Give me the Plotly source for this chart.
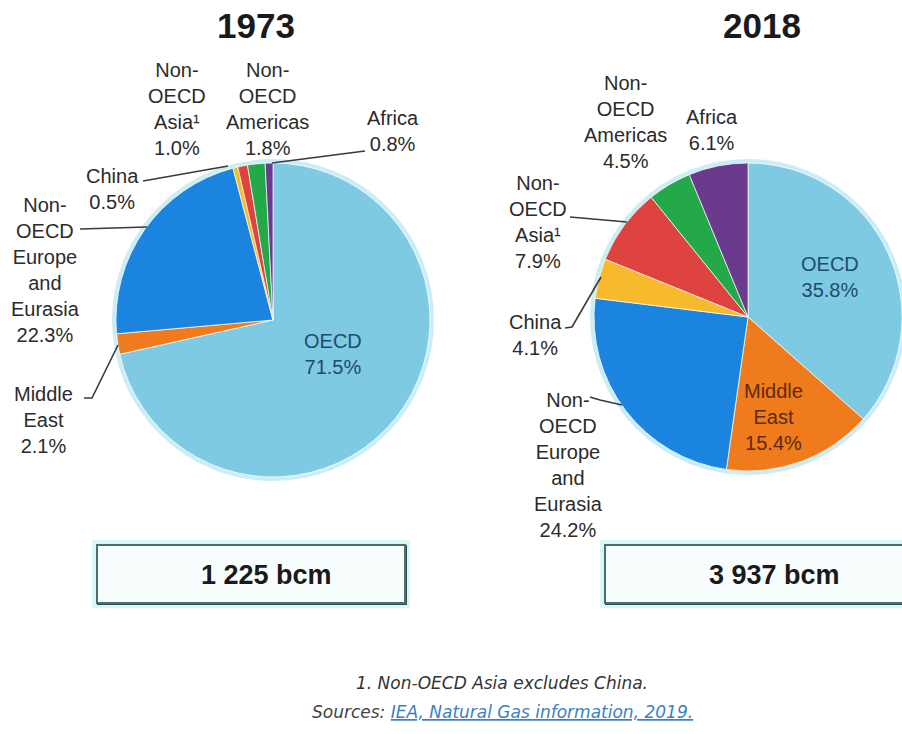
import plotly.graph_objects as go

# --- data -------------------------------------------------------------
regions = ["OECD", "Middle East", "Non-OECD Europe and Eurasia", "China",
           "Non-OECD Asia", "Non-OECD Americas", "Africa"]
label_names = ["OECD", "Middle<br>East", "Non-<br>OECD<br>Europe<br>and<br>Eurasia",
               "China", "Non-<br>OECD<br>Asia¹", "Non-<br>OECD<br>Americas", "Africa"]
share_1973 = [71.5, 2.1, 22.3, 0.5, 1.0, 1.8, 0.8]
share_2018 = [35.8, 15.4, 24.2, 4.1, 7.9, 4.5, 6.1]
years = ["1973", "2018"]
totals = ["1 225 bcm", "3 937 bcm"]
colors = ["#7ecae2", "#f07b1c", "#1a84de", "#f6ba2c", "#de4340", "#23a84a", "#6a3b8c"]

W, H = 902, 734
FONT = "Liberation Sans, Arial, sans-serif"
NOTE_FONT = "DejaVu Sans, Liberation Sans, Arial, sans-serif"


def px(x, y):
    return x / W, 1 - y / H


def domain(cx, cy, r):
    return dict(x=[(cx - r) / W, min((cx + r) / W, 1.0)],
                y=[1 - (cy + r) / H, 1 - (cy - r) / H])


pies = [
    dict(values=share_1973, cx=273, cy=320, r=157),
    dict(values=share_2018, cx=748, cy=317, r=154),
]

fig = go.Figure()
shapes = []
for p in pies:
    # soft halo around each pie
    x0, y1 = px(p["cx"] - p["r"] - 2, p["cy"] - p["r"] - 2)
    x1, y0 = px(p["cx"] + p["r"] + 2, p["cy"] + p["r"] + 2)
    shapes.append(dict(type="circle", xref="paper", yref="paper", x0=x0, x1=x1, y0=y0, y1=y1,
                       line=dict(color="rgba(140,215,235,0.45)", width=4), layer="below"))
    fig.add_trace(go.Pie(
        labels=regions, values=p["values"], sort=False, direction="clockwise", rotation=0,
        marker=dict(colors=colors, line=dict(color="rgba(255,255,255,0.7)", width=1)),
        textinfo="none", hoverinfo="label+percent", domain=domain(p["cx"], p["cy"], p["r"]),
        showlegend=False,
    ))

annotations = []


def label(x, y, text, size=20, color="#2b2b2b", family=FONT):
    ax, ay = px(x, y)
    annotations.append(dict(x=ax, y=ay, xref="paper", yref="paper", text=text, showarrow=False,
                            xanchor="center", yanchor="middle",
                            font=dict(family=family, size=size, color=color)))


def pct(values, i):
    return f"{values[i]:.1f}%"


# label anchor points (text block centres), in region order
pos_1973 = [(333, 354), (43, 420), (45, 270), (112, 189), (177, 109), (267, 109), (393, 131)]
pos_2018 = [(830, 277), (773, 417), (568, 465), (535, 335), (538, 222), (625, 122), (712, 130)]
inside_colors = {0: "#1d4d6c", 1: "#5a2a0a"}

for values, positions in [(share_1973, pos_1973), (share_2018, pos_2018)]:
    for i, (x, y) in enumerate(positions):
        inside = (i == 0) or (values is share_2018 and i == 1)
        col = inside_colors[i] if inside else "#2b2b2b"
        label(x, y, f"{label_names[i]}<br>{pct(values, i)}", color=col)

# leader lines
leaders = [
    [(143, 181), (228, 166)],
    [(80, 229), (147, 227)],
    [(84, 398), (92, 398), (118, 345)],
    [(365, 151), (272, 163)],
    [(570, 217), (627, 222)],
    [(565, 328), (572, 327), (601, 277)],
    [(590, 397), (600, 400), (622, 405)],
]
for pts in leaders:
    path = "M " + " L ".join(f"{px(x, y)[0]:.5f},{px(x, y)[1]:.5f}" for x, y in pts)
    shapes.append(dict(type="path", xref="paper", yref="paper", path=path,
                       line=dict(color="#3a3a3a", width=1.6)))

# year titles
for yr, x in zip(years, [256, 762]):
    label(x, 26, f"<b>{yr}</b>", size=35, color="#1a1a1a")

# total volume boxes
boxes = [(97, 545, 405, 603, 266), (605, 545, 920, 603, 774)]
for (bx0, by0, bx1, by1, tx), tot in zip(boxes, totals):
    gx0, gy1 = px(bx0 - 3, by0 - 3)
    gx1, gy0 = px(bx1 + 3, by1 + 3)
    shapes.append(dict(type="rect", xref="paper", yref="paper", x0=gx0, x1=gx1, y0=gy0, y1=gy1,
                       line=dict(color="rgba(150,230,230,0.35)", width=4), fillcolor="rgba(0,0,0,0)"))
    sx0, sy1 = px(bx0 + 1, by0 + 1)
    sx1, sy0 = px(bx1 + 1, by1 + 1)
    shapes.append(dict(type="rect", xref="paper", yref="paper", x0=sx0, x1=sx1, y0=sy0, y1=sy1,
                       line=dict(color="#2f4f4f", width=2), fillcolor="rgba(0,0,0,0)"))
    rx0, ry1 = px(bx0, by0)
    rx1, ry0 = px(bx1, by1)
    shapes.append(dict(type="rect", xref="paper", yref="paper", x0=rx0, x1=rx1, y0=ry0, y1=ry1,
                       line=dict(color="#4a6e6e", width=2), fillcolor="#f7fdfd"))
    label(tx, 575, f"<b>{tot}</b>", size=27, color="#1a1a1a")

# footnotes
label(502, 683, "<i>1. Non-OECD Asia excludes China.</i>", size=17, color="#333333", family=NOTE_FONT)
label(502, 712, "<i>Sources: <span style='color:#3b7fc4'><u>IEA, Natural Gas information, 2019.</u></span></i>",
      size=17, color="#444444", family=NOTE_FONT)

fig.update_layout(
    width=W, height=H, margin=dict(l=0, r=0, t=0, b=0),
    paper_bgcolor="white", plot_bgcolor="white",
    shapes=shapes, annotations=annotations, showlegend=False,
)
fig.write_html("out.html")
